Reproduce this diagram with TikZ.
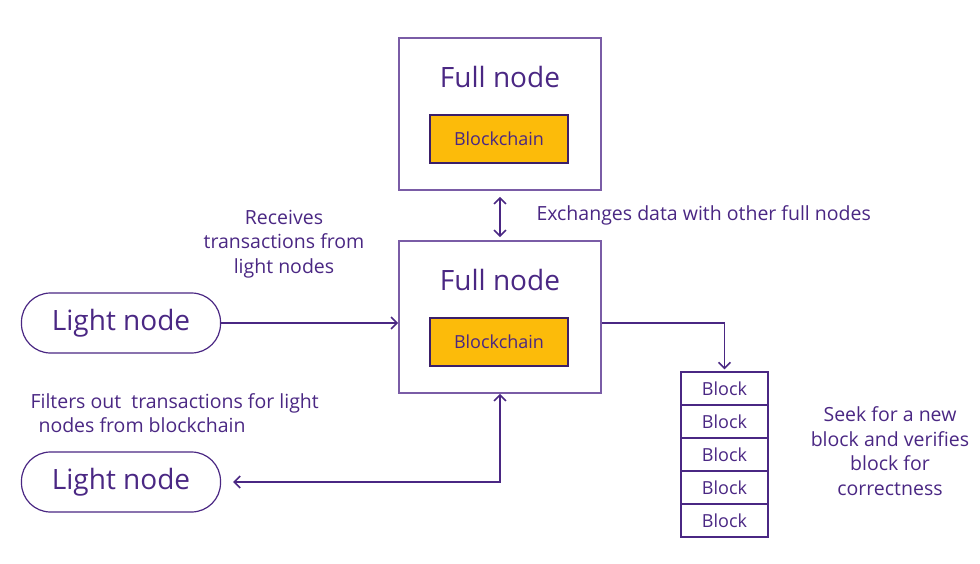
\documentclass[tikz,border=0pt]{standalone}
\usepackage{fontspec}
\setmainfont{Open Sans}
\usetikzlibrary{arrows.meta,positioning}
\definecolor{frame}{HTML}{7A5CA6}
\definecolor{ink}{HTML}{4A2783}
\definecolor{chain}{HTML}{FCBB0A}

\begin{document}
\begin{tikzpicture}[x=1pt,y=-1pt,
  font=\fontsize{19.5}{24.5}\selectfont, text=ink,
  fullbox/.style={draw=frame,line width=1.6pt,minimum width=202pt,minimum height=152pt,inner sep=0pt},
  title/.style={font=\fontsize{28}{30}\selectfont},
  chainbox/.style={draw=ink!80!black,fill=chain,line width=1.2pt,minimum width=138pt,minimum height=48pt,font=\fontsize{18}{20}\selectfont},
  lightbox/.style={draw=ink,line width=1.2pt,rounded corners=29pt,minimum width=199pt,minimum height=60pt,font=\fontsize{28}{30}\selectfont},
  blockbox/.style={draw=ink,line width=1.2pt,minimum width=87pt,minimum height=33pt,inner sep=0pt,font=\fontsize{18}{20}\selectfont},
  link/.style={draw=ink,line width=1.6pt,-{Straight Barb[length=6pt,width=12pt]}},
  twoway/.style={draw=ink,line width=1.6pt,{Straight Barb[length=6pt,width=12pt]}-{Straight Barb[length=6pt,width=12pt]}},
  note/.style={align=center}]
\useasboundingbox (0,0) rectangle (980,564);

% full nodes
\node[fullbox] (full1) at (500,114) {};
\node[title] (title1) at (500,77) {Full node};
\node[chainbox] (chain1) at (499,139) {Blockchain};
\node[fullbox] (full2) at (500,317) {};
\node[title] (title2) at (500,280) {Full node};
\node[chainbox] (chain2) at (499,342) {Blockchain};

% light nodes
\node[lightbox] (light1) at (121,323) {Light node};
\node[lightbox] (light2) at (121,482) {Light node};

% chain of blocks
\foreach \i in {1,...,5}
  \node[blockbox] (b\i) at (724.5,355.5+33*\i) {Block};

% connectors
\draw[twoway,shorten <=6pt,shorten >=3pt] (full1.south) -- (full2.north);
\draw[link] (light1.east) -- (light1 -| full2.west);
\draw[twoway,shorten <=12pt] (light2.east) -| (full2.south);
\draw[link,shorten >=2pt] (full2.east |- light1) -| (b1.north);

% labels
\node[anchor=west] (exch) at (533,215) {Exchanges data with other full nodes};
\node[note] (recv) at (284,244) {Receives\\transactions from\\light nodes};
\node[align=left,anchor=north west] (filt) at (27,390) {Filters out\ \ transactions for light\\\hspace{8pt}nodes from blockchain};
\node[note] (seek) at (890,451) {Seek for a new\\block and verifies\\block for\\correctness};
\end{tikzpicture}
\end{document}
